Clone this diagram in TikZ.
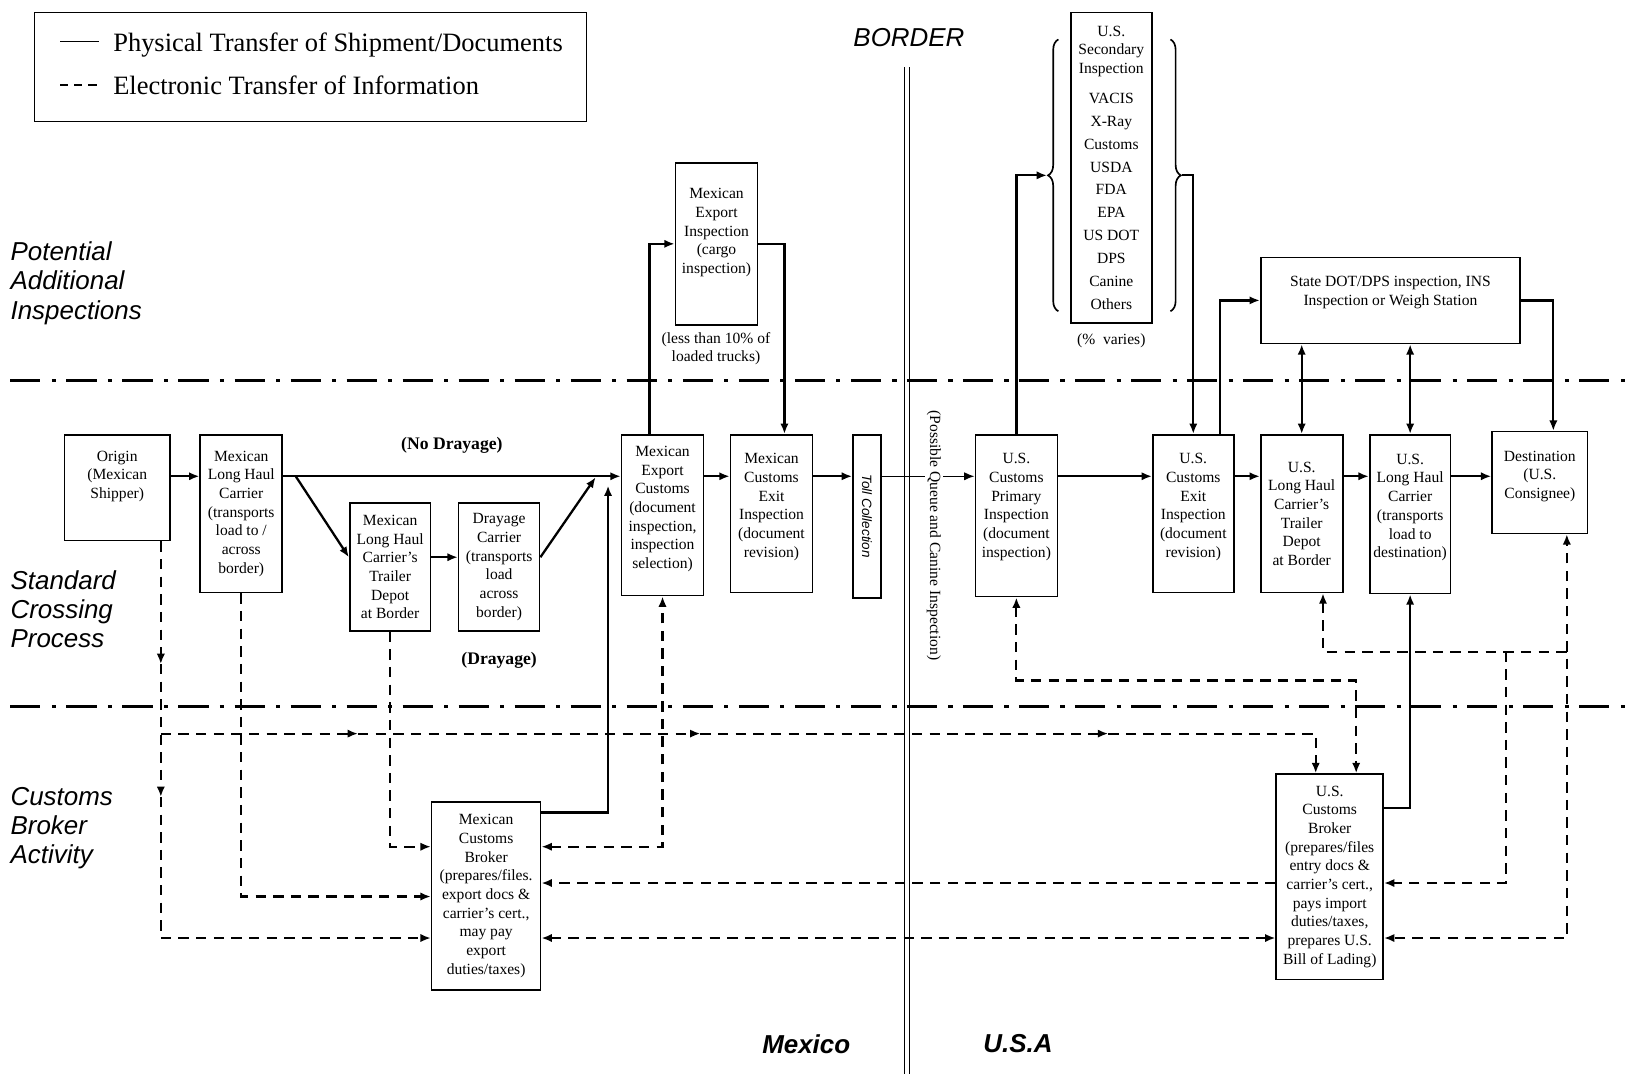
\documentclass[tikz,border=0pt]{standalone}
\usepackage{fontspec}
\setmainfont{Liberation Serif}
\setsansfont{Liberation Sans}
\usepackage{graphicx}
\usetikzlibrary{arrows.meta,decorations.pathreplacing}

\newcommand{\bxfont}{\fontsize{15}{18}\selectfont}
\newcommand{\zonefont}{\fontsize{25}{28}\selectfont\sffamily\itshape}
\newcommand{\dropby}[1]{\rule[-#1]{0pt}{#1}}

\tikzset{
  box/.style={draw, line width=1.6pt, align=center, inner sep=1pt, font=\bxfont},
  phys/.style={line width=2.2pt, ->},
  elec/.style={line width=2pt, dash pattern=on 10pt off 7pt, ->},
  zone/.style={line width=3.2pt, dash pattern=on 29pt off 11pt on 4pt off 10pt},
  zonelbl/.style={anchor=west, align=left, inner sep=0pt, font=\zonefont},
}

\begin{document}
\begin{tikzpicture}[x=1pt, y=-1pt, >={Latex[length=10pt,width=8pt]}]
\useasboundingbox (0,0) rectangle (1568,1035);

% legend
\node[draw, line width=1.4pt, minimum width=532, minimum height=105] (legend) at (299,64.5) {};
\coordinate (lgA) at (58,40);
\coordinate (lgB) at (95,40);
\draw[line width=1.6pt] (lgA) -- (lgB);
\node[anchor=west, inner sep=0pt, font=\fontsize{25.5}{28}\selectfont] (lgphys) at (109,43) {Physical Transfer of Shipment/Documents};
\coordinate (lgC) at (58,82);
\coordinate (lgD) at (93,82);
\draw[line width=1.6pt, dash pattern=on 8pt off 5.5pt] (lgC) -- (lgD);
\node[anchor=west, inner sep=0pt, font=\fontsize{25.5}{28}\selectfont] (lgelec) at (109,82) {Electronic Transfer of Information};

% zones and border
\coordinate (zlA) at (10,367);
\coordinate (zrA) at (1568,367);
\draw[zone] (zlA) -- (zrA);
\coordinate (zlB) at (10,681);
\coordinate (zrB) at (1568,681);
\draw[zone] (zlB) -- (zrB);
\draw[line width=1.4pt] (871.5,65) -- (871.5,1035);
\draw[line width=1.4pt] (876.5,65) -- (876.5,1035);
\node[zonelbl] (zpot) at (10,273) {Potential\\Additional\\Inspections};
\node[zonelbl] (zstd) at (10,587) {Standard\\Crossing\\Process};
\node[zonelbl] (zcba) at (10,798) {Customs\\Broker\\Activity};
\node[font=\zonefont] (border) at (876,36) {BORDER};
\node[font=\zonefont\bfseries] (mexico) at (777,1006) {Mexico};
\node[font=\zonefont\bfseries] (usa) at (981,1006) {U.S.A};

% levels
\coordinate (flow) at (0,459);
\coordinate (dlvl) at (0,537);
\coordinate (mcbout) at (0,783);
\coordinate (usout) at (0,779);
\coordinate (lvlC) at (0,816);
\coordinate (lvlD) at (0,864);
\coordinate (lvlE) at (0,851);
\coordinate (lvlF) at (0,904);
\coordinate (xmei) at (626,0);
\coordinate (xmcei) at (756,0);
\coordinate (xsec) at (1176,0);
\coordinate (xdest) at (1497,0);
\coordinate (xorig) at (155,0);
\coordinate (xusA) at (1268,0);
\coordinate (xusB) at (1307,0);
\coordinate (xudep) at (1275,0);
\coordinate (xjd) at (1510,0);

% boxes
\node[box, minimum width=102, minimum height=102] (origin) at (113,470) {Origin\\(Mexican\\Shipper)\dropby{25pt}};
\node[box, minimum width=79, minimum height=152] (mlhc) at (232.5,495) {Mexican\\Long Haul\\Carrier\\(transports\\load to /\\across\\border)};
\node[box, minimum width=78, minimum height=123] (mdepot) at (376,546.5) {Mexican\\Long Haul\\Carrier's\\Trailer\\Depot\\at Border};
\node[box, minimum width=78, minimum height=123] (dray) at (481,546.5) {Drayage\\Carrier\\(transports\\load\\across\\border)};
\node[box, minimum width=79, minimum height=155] (mec) at (638.5,496.5) {Mexican\\Export\\Customs\\(document\\inspection,\\inspection\\selection)\dropby{15pt}};
\node[box, minimum width=79, minimum height=152] (mcei) at (743.5,495) {Mexican\\Customs\\Exit\\Inspection\\(document\\revision)\dropby{16pt}};
\node[box, minimum width=27, minimum height=157] (toll) at (835.5,497.5) {\rotatebox{-90}{\sffamily\itshape\fontsize{13}{15}\selectfont Toll Collection}};
\node[box, minimum width=79, minimum height=156] (ucpi) at (979.5,497) {U.S.\\Customs\\Primary\\Inspection\\(document\\inspection)\dropby{20pt}};
\node[box, minimum width=78, minimum height=152] (ucei) at (1150,495) {U.S.\\Customs\\Exit\\Inspection\\(document\\revision)\dropby{16pt}};
\node[box, minimum width=79, minimum height=152] (udepot) at (1254.5,495) {U.S.\\Long Haul\\Carrier's\\Trailer\\Depot\\at Border};
\node[box, minimum width=78, minimum height=153] (ulhc) at (1359,495.5) {U.S.\\Long Haul\\Carrier\\(transports\\load to\\destination)\dropby{16pt}};
\node[box, minimum width=92, minimum height=98] (dest) at (1484,465) {Destination\\(U.S.\\Consignee)\dropby{15pt}};
\node[box, minimum width=79, minimum height=156] (mei) at (690.5,235) {Mexican\\Export\\Inspection\\(cargo\\inspection)\dropby{25pt}};
\node[font=\bxfont, align=center, inner sep=0pt] (meipct) at (690,336) {(less than 10\% of\\loaded trucks)};
\node[box, minimum width=78, minimum height=299] (usec) at (1071,161.5) {U.S.\\Secondary\\Inspection\\[11pt]VACIS\\[4pt]X-Ray\\[4pt]Customs\\[4pt]USDA\\[4pt]FDA\\[4pt]EPA\\[4pt]US DOT\\[4pt]DPS\\[4pt]Canine\\[4pt]Others};
\node[font=\bxfont, inner sep=0pt] (usecpct) at (1071,328) {(\%\enspace varies)};
\node[box, minimum width=250, minimum height=83] (state) at (1340,289.5) {State DOT/DPS inspection, INS\\Inspection or Weigh Station\dropby{18pt}};
\node[box, minimum width=105, minimum height=181] (mcb) at (468.5,863.5) {Mexican\\Customs\\Broker\\(prepares/files.\\export docs \&\\carrier's cert.,\\may pay\\export\\duties/taxes)};
\node[box, minimum width=103, minimum height=198] (uscb) at (1281.5,845) {U.S.\\Customs\\Broker\\(prepares/files\\entry docs \&\\carrier's cert.,\\pays import\\duties/taxes,\\prepares U.S.\\Bill of Lading)};

% braces
\coordinate (lbrA) at (1020,300);
\coordinate (lbrB) at (1020,38);
\draw[line width=1.6pt, decorate, decoration={brace, amplitude=10pt}] (lbrA) -- (lbrB);
\coordinate (rbrA) at (1128,38);
\coordinate (rbrB) at (1128,300);
\draw[line width=1.6pt, decorate, decoration={brace, amplitude=10pt}] (rbrA) -- (rbrB);
\coordinate (lbr) at (1009,169);
\coordinate (rbr) at (1139,169);

% physical transfer
\coordinate (split) at (285,459);
\coordinate (merge) at (574,460);
\coordinate (mcbup) at (586,468);
\draw[phys] (origin.east |- flow) -- (mlhc.west |- flow);
\draw[phys] (mlhc.east |- flow) -- (mec.west |- flow) node[midway, above=18pt, font=\bfseries\fontsize{17}{20}\selectfont] (nodray) {(No Drayage)};
\draw[phys] (split) -- (mdepot.west |- dlvl);
\draw[phys] (mdepot.east |- dlvl) -- (dray.west |- dlvl);
\draw[phys] (dray.east |- dlvl) -- (merge);
\node[font=\bfseries\fontsize{17}{20}\selectfont] (draylbl) at (481,636) {(Drayage)};
\draw[phys] (mcb.east |- mcbout) -| (mcbup);
\draw[phys] (mec.north -| xmei) |- (mei.west);
\draw[phys] (mei.east) -| (mcei.north -| xmcei);
\draw[phys] (mec.east |- flow) -- (mcei.west |- flow);
\draw[phys] (mcei.east |- flow) -- (toll.west |- flow);
\draw[line width=1.4pt, ->] (toll.east |- flow) -- (ucpi.west |- flow);
\node[font=\bxfont, rotate=-90, fill=white, inner sep=2pt] (queue) at (900,516) {(Possible Queue and Canine Inspection)};
\draw[phys] (ucpi.east |- flow) -- (ucei.west |- flow);
\draw[phys] (ucpi.north) |- (lbr);
\draw[phys] (rbr) -| (ucei.north);
\draw[phys] (ucei.north -| xsec) |- (state.west);
\draw[phys] (ucei.east |- flow) -- (udepot.west |- flow);
\draw[phys, <->] (udepot.north) -- (state.south -| udepot.north);
\draw[phys, <->] (ulhc.north) -- (state.south -| ulhc.north);
\draw[phys] (state.east) -| (dest.north -| xdest);
\draw[phys] (udepot.east |- flow) -- (ulhc.west |- flow);
\draw[phys] (ulhc.east |- flow) -- (dest.west |- flow);
\draw[phys] (uscb.east |- usout) -| (ulhc.south);

% electronic transfer
\coordinate (obA) at (155,640);
\coordinate (obB) at (155,768);
\coordinate (obr) at (155,707);
\coordinate (arA) at (345,707);
\coordinate (arB) at (675,707);
\coordinate (arC) at (1068,707);
\coordinate (jb) at (1451,628);
\coordinate (jd) at (1510,628);
\draw[elec] (origin.south -| xorig) -- (obA);
\draw[elec] (obA) -- (obB);
\draw[elec] (obB) |- (mcb.west |- lvlF);
\draw[elec] (obr) -- (arA);
\draw[elec] (arA) -- (arB);
\draw[elec] (arB) -- (arC);
\draw[elec] (arC) -| (uscb.north -| xusA);
\draw[elec] (mlhc.south) |- (mcb.west |- lvlD);
\draw[elec] (mdepot.south) |- (mcb.west |- lvlC);
\draw[elec, <->] (mcb.east |- lvlC) -| (mec.south);
\draw[elec] (uscb.west |- lvlE) -- (mcb.east |- lvlE);
\draw[elec, <->] (mcb.east |- lvlF) -- (uscb.west |- lvlF);
\draw[elec, <->] (ucpi.south) -- ++(0,80) -| (uscb.north -| xusB);
\draw[elec, <->] (udepot.south -| xudep) |- (jd) |- (uscb.east |- lvlF);
\draw[elec] (jd) -- (dest.south -| xjd);
\draw[elec] (jb) |- (uscb.east |- lvlE);
\end{tikzpicture}
\end{document}
